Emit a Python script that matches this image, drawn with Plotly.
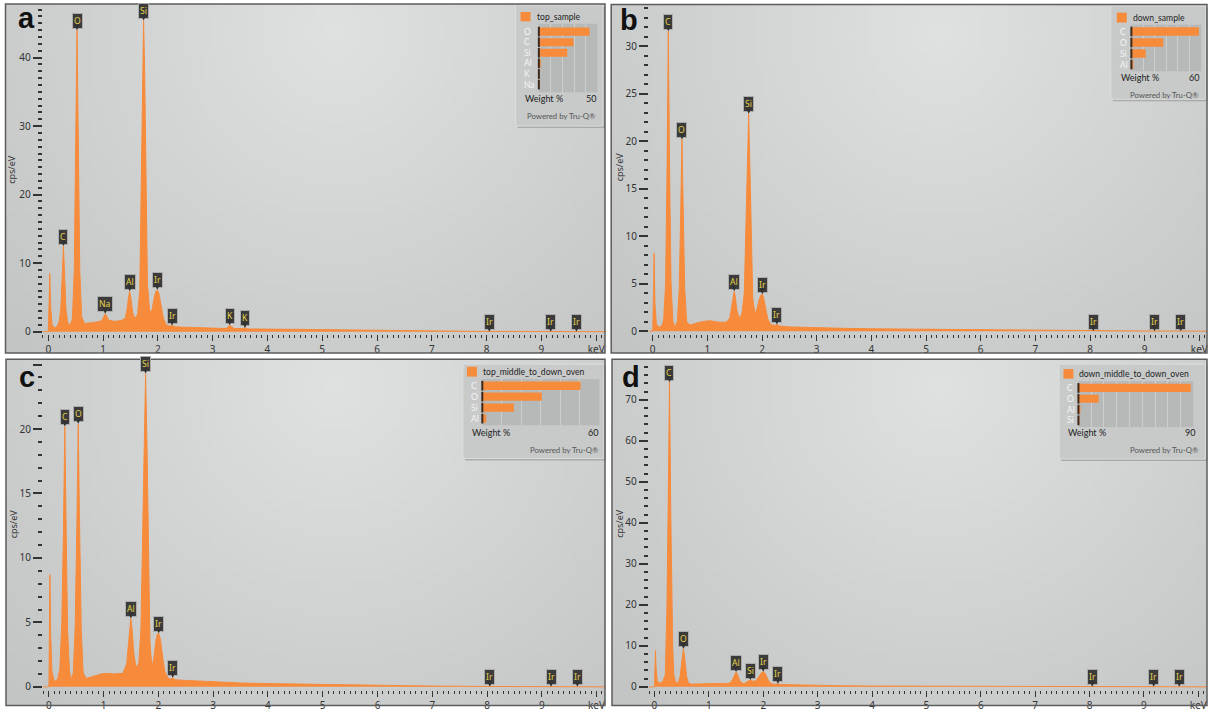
import math, zlib, struct, base64
import plotly.graph_objects as go

W, H = 1210, 713
def X(px): return px / W
def Y(py): return 1 - py / H

ORANGE = '#f68b3c'
TICK = '#333333'
FONT = 'Noto Sans'
LFONT = 'Lato'

# ---------------- data ----------------
energy_ticks = [0, 1, 2, 3, 4, 5, 6, 7, 8, 9, 10]
energy_tick_text = ['0', '1', '2', '3', '4', '5', '6', '7', '8', '9', 'keV']

# panel a : top_sample
a_energy = [-0.1, 0.0, 0.015, 0.028, 0.045, 0.07, 0.12, 0.17,
            0.2, 0.23, 0.255, 0.277, 0.3, 0.325, 0.36, 0.4,
            0.44, 0.475, 0.5, 0.525, 0.55, 0.575, 0.61, 0.66,
            0.8, 0.95,
            0.99, 1.02, 1.04, 1.06, 1.1, 1.2, 1.32, 1.4,
            1.44, 1.465, 1.486, 1.51, 1.54, 1.58, 1.63,
            1.67, 1.7, 1.72, 1.74, 1.76, 1.78, 1.81, 1.85,
            1.89, 1.93, 1.96, 1.99, 2.02, 2.06, 2.1, 2.15,
            2.22, 2.26, 2.32, 2.5, 2.8, 3.1, 3.25,
            3.29, 3.31, 3.34, 3.4, 3.56, 3.59, 3.63,
            4.0, 4.5, 5.0, 5.5, 6.0, 6.5, 7.0, 7.5, 8.0, 9.0, 10.17]
a_cps = [0, 0, 4, 8.5, 3.5, 1.0, 0.5, 0.9,
         1.5, 3.5, 8, 12.5, 8, 3, 1.2, 1.0,
         1.8, 9, 27, 44.0, 27, 9, 2.2, 1.2,
         1.3, 1.5,
         1.8, 2.4, 2.6, 2.4, 1.7, 1.5, 1.6, 1.9,
         3.3, 5.0, 5.9, 4.8, 2.8, 1.9, 2.5,
         6, 24, 38, 45.4, 38, 22, 7, 3,
         3.0, 4.8, 5.8, 6.1, 5.6, 3.8, 2.0, 1.0,
         0.8, 0.9, 0.7, 0.65, 0.55, 0.5, 0.45,
         0.8, 0.95, 0.75, 0.45, 0.45, 0.55, 0.4,
         0.4, 0.35, 0.3, 0.25, 0.2, 0.15, 0.1, 0.05, 0.03, 0.02, 0]
a_label_names = ['C', 'O', 'Na', 'Al', 'Si', 'Ir', 'Ir', 'K', 'K', 'Ir', 'Ir', 'Ir']
a_label_energy = [0.277, 0.525, 1.04, 1.486, 1.74, 1.99, 2.26, 3.31, 3.59, 8.05, 9.17, 9.64]
a_label_cps = [12.5, 44.0, 2.6, 5.9, 45.4, 6.1, 0.9, 0.95, 0.55, 0, 0, 0]
a_elements = ['O', 'C', 'Si', 'Al', 'K', 'Na']
a_weight = [43.2, 29.6, 24.2, 1.7, 0.5, 0.3]

# panel b : down_sample
b_energy = [-0.08, 0.0, 0.012, 0.025, 0.04, 0.065, 0.11, 0.17,
            0.2, 0.235, 0.26, 0.285, 0.31, 0.335, 0.37, 0.41,
            0.45, 0.485, 0.51, 0.535, 0.56, 0.585, 0.62, 0.68,
            0.8, 0.95, 1.05, 1.2, 1.35,
            1.41, 1.445, 1.47, 1.49, 1.51, 1.54, 1.58, 1.63,
            1.675, 1.71, 1.735, 1.755, 1.775, 1.8, 1.83, 1.87,
            1.91, 1.95, 1.98, 2.005, 2.03, 2.07, 2.11, 2.16,
            2.23, 2.27, 2.32, 2.5, 3.0, 3.5, 4.0, 5.0, 6.0, 7.0, 8.0, 9.0, 10.14]
b_cps = [0, 0, 3.5, 8.2, 3, 0.8, 0.4, 0.6,
         1.2, 5, 16, 31.6, 16, 5, 1.0, 0.45,
         1.0, 4.5, 12, 20.2, 12, 4.5, 1.0, 0.65,
         0.85, 1.05, 1.1, 0.95, 0.95,
         1.4, 2.6, 3.7, 4.2, 3.6, 2.2, 1.4, 1.8,
         4, 12, 19, 22.9, 18, 10, 3.5, 1.8,
         2.4, 3.4, 3.8, 3.9, 3.5, 2.3, 1.2, 0.7,
         0.6, 0.7, 0.55, 0.45, 0.35, 0.3, 0.25, 0.2, 0.12, 0.07, 0.04, 0.02, 0]
b_label_names = ['C', 'O', 'Al', 'Si', 'Ir', 'Ir', 'Ir', 'Ir', 'Ir']
b_label_energy = [0.285, 0.535, 1.49, 1.755, 2.005, 2.27, 8.06, 9.18, 9.66]
b_label_cps = [31.6, 20.2, 4.2, 22.9, 3.9, 0.7, 0, 0, 0]
b_elements = ['C', 'O', 'Si', 'Al']
b_weight = [58.0, 27.4, 12.3, 1.5]

# panel c : top_middle_to_down_oven
c_energy = [-0.11, 0.0, 0.008, 0.018, 0.032, 0.055, 0.1, 0.16,
            0.2, 0.235, 0.265, 0.29, 0.315, 0.34, 0.375, 0.41,
            0.445, 0.48, 0.51, 0.535, 0.56, 0.59, 0.625, 0.68,
            0.8, 0.95, 1.05, 1.2, 1.35,
            1.42, 1.45, 1.475, 1.496, 1.52, 1.55, 1.59, 1.64,
            1.68, 1.715, 1.74, 1.765, 1.79, 1.815, 1.845, 1.88,
            1.915, 1.95, 1.98, 2.005, 2.035, 2.075, 2.115, 2.17,
            2.22, 2.26, 2.31, 2.5, 3.0, 3.5, 4.0, 5.0, 6.0, 7.0, 8.0, 9.0, 10.16]
c_cps = [0, 0, 4, 8.7, 4, 1.2, 0.4, 0.6,
         1.4, 5, 12, 20.2, 12, 4.5, 1.2, 0.55,
         1.1, 4.8, 12.5, 20.4, 12.5, 4.5, 1.1, 0.65,
         0.8, 1.0, 1.05, 1.0, 1.05,
         1.8, 3.2, 4.6, 5.3, 4.4, 2.6, 1.5, 1.8,
         4.5, 13, 20, 24.3, 19, 10, 3.5, 1.5,
         2.2, 3.5, 4.1, 4.16, 3.7, 2.4, 1.2, 0.7,
         0.6, 0.7, 0.55, 0.5, 0.38, 0.3, 0.25, 0.18, 0.12, 0.06, 0.03, 0.02, 0]
c_label_names = ['C', 'O', 'Al', 'Si', 'Ir', 'Ir', 'Ir', 'Ir', 'Ir']
c_label_energy = [0.29, 0.535, 1.496, 1.765, 2.005, 2.26, 8.05, 9.17, 9.65]
c_label_cps = [20.2, 20.4, 5.3, 24.3, 4.16, 0.7, 0, 0, 0]
c_elements = ['C', 'O', 'Si', 'Al']
c_weight = [50.3, 30.5, 16.2, 2.0]

# panel d : down_middle_to_down_oven
d_energy = [-0.1, 0.0, 0.008, 0.018, 0.03, 0.05, 0.09, 0.15,
            0.2, 0.215, 0.23, 0.25, 0.276, 0.3, 0.32, 0.335, 0.355, 0.39,
            0.44, 0.475, 0.505, 0.533, 0.56, 0.59, 0.625, 0.68,
            0.8, 0.95, 1.1, 1.3,
            1.4, 1.44, 1.47, 1.5, 1.53, 1.565, 1.61,
            1.67, 1.71, 1.74, 1.764, 1.79, 1.83,
            1.88, 1.93, 1.97, 2.0, 2.03, 2.07, 2.11, 2.16,
            2.22, 2.27, 2.32, 2.5, 3.0, 3.5, 4.0, 5.0, 6.0, 7.0, 8.0, 9.0, 10.16]
d_cps = [0, 0, 4, 8.9, 4.5, 1.5, 0.9, 1.2,
         3, 10, 20, 42, 74.3, 42, 20, 10, 3, 1.0,
         1.0, 2.8, 6.5, 9.3, 6.5, 2.5, 0.9, 0.65,
         0.7, 0.8, 0.8, 0.75,
         1.0, 1.9, 3.0, 3.6, 2.9, 1.6, 0.85,
         0.9, 1.3, 1.6, 1.65, 1.5, 1.3,
         1.7, 2.9, 3.5, 3.7, 3.4, 2.3, 1.2, 0.7,
         0.6, 0.75, 0.55, 0.5, 0.3, 0.25, 0.2, 0.15, 0.1, 0.05, 0.03, 0.02, 0]
d_label_names = ['C', 'O', 'Al', 'Si', 'Ir', 'Ir', 'Ir', 'Ir', 'Ir']
d_label_energy = [0.276, 0.533, 1.5, 1.764, 2.0, 2.27, 8.05, 9.18, 9.65]
d_label_cps = [74.3, 9.3, 3.6, 1.65, 3.7, 0.75, 0, 0, 0]
d_elements = ['C', 'O', 'Al', 'Si']
d_weight = [88.0, 15.9, 1.2, 0.6]

# ---------------- background gradient (style only) ----------------
def gradient_png(w=80, h=48):
    rows = []
    for j in range(h):
        v = (j + 0.5) / h
        row = bytearray([0])
        for i in range(w):
            u = (i + 0.5) / w
            d = math.hypot((u - 0.55) * 1.7, v - 0.08)
            f = max(0.0, 1 - d / 1.6)
            g = 190 + 36 * f
            row += bytes([int(g - 2), int(g), int(g)])
        rows.append(bytes(row))
    raw = b''.join(rows)
    def chunk(t, data):
        c = struct.pack('>I', len(data)) + t + data
        return c + struct.pack('>I', zlib.crc32(t + data) & 0xffffffff)
    png = (b'\x89PNG\r\n\x1a\n'
           + chunk(b'IHDR', struct.pack('>IIBBBBB', w, h, 8, 2, 0, 0, 0))
           + chunk(b'IDAT', zlib.compress(raw))
           + chunk(b'IEND', b''))
    return 'data:image/png;base64,' + base64.b64encode(png).decode()

BG = gradient_png()

panels = [
    dict(letter='a', energy=a_energy, cps=a_cps, ln=a_label_names, le=a_label_energy, lc=a_label_cps,
         sample='top_sample', elements=a_elements, weight=a_weight, wmax=50,
         frame=(5.5, 4, 605.5, 355.5), plot=(42.8, 5, 606, 336), xr=[-0.10, 10.17], yr=[-0.29, 47.68],
         ydt=10, ymin=1, ylabmax=40, box=(516, 5, 603.5, 127), sq=(521, 12, 531, 21.5), name_xy=(535, 16.7),
         bars=(539.3, 24, 598, 93), el_x=523, wt_y=99.3, wt_max_x=598, pw=(598, 117),
         ylab=(12, 170), letter_xy=(16, 18)),
    dict(letter='b', energy=b_energy, cps=b_cps, ln=b_label_names, le=b_label_energy, lc=b_label_cps,
         sample='down_sample', elements=b_elements, weight=b_weight, wmax=60,
         frame=(611.7, 4.5, 1208, 355.5), plot=(649.5, 5, 1208, 336), xr=[-0.069, 10.14], yr=[-0.26, 34.36],
         ydt=5, ymin=1, ylabmax=30, box=(1111.7, 6, 1206.7, 100), sq=(1117.7, 12.7, 1127.7, 22.7),
         name_xy=(1131.7, 17.7),
         bars=(1132.3, 25, 1202.3, 71.7), el_x=1120, wt_y=78.3, wt_max_x=1202, pw=(1202, 95.7),
         ylab=(620, 168), letter_xy=(619, 20)),
    dict(letter='c', energy=c_energy, cps=c_cps, ln=c_label_names, le=c_label_energy, lc=c_label_cps,
         sample='top_middle_to_down_oven', elements=c_elements, weight=c_weight, wmax=60,
         frame=(6, 361.7, 605.5, 710.5), plot=(43, 363, 606, 694.5), xr=[-0.109, 10.164], yr=[-0.216, 25.32],
         ydt=5, ymin=1, ylabmax=20, box=(463.3, 366.7, 604.5, 461.7), sq=(467.3, 369.3, 477.3, 379.3),
         name_xy=(481.7, 374.3),
         bars=(482.7, 381.7, 600, 428.3), el_x=470, wt_y=435.7, wt_max_x=600.7, pw=(601.7, 453.3),
         ylab=(13, 527), letter_xy=(17, 380)),
    dict(letter='d', energy=d_energy, cps=d_cps, ln=d_label_names, le=d_label_energy, lc=d_label_cps,
         sample='down_middle_to_down_oven', elements=d_elements, weight=d_weight, wmax=90,
         frame=(612.5, 361.7, 1208, 710.5), plot=(649.3, 363, 1208, 694.5), xr=[-0.105, 10.16], yr=[-0.68, 79.59],
         ydt=10, ymin=2, ylabmax=70, box=(1060, 366.7, 1206.5, 462.3), sq=(1064.3, 371.7, 1074.3, 381.3),
         name_xy=(1078.3, 376.5),
         bars=(1079.3, 384, 1194.3, 430), el_x=1066.7, wt_y=436, wt_max_x=1197.7, pw=(1201.7, 453.3),
         ylab=(620, 527), letter_xy=(621, 380)),
]

fig = go.Figure()
layout = dict(width=W, height=H, margin=dict(l=0, r=0, t=0, b=0), paper_bgcolor='white',
              plot_bgcolor='rgba(0,0,0,0)', showlegend=False, bargap=0.3, hovermode=False)
shapes, annotations, images = [], [], []

for i, p in enumerate(panels):
    n = i + 1
    xid = 'x' if n == 1 else f'x{n}'
    yid = 'y' if n == 1 else f'y{n}'
    xkey = 'xaxis' if n == 1 else f'xaxis{n}'
    ykey = 'yaxis' if n == 1 else f'yaxis{n}'
    m = n + 4
    bx, by = f'x{m}', f'y{m}'

    # spectrum
    fig.add_trace(go.Scatter(x=p['energy'], y=p['cps'], xaxis=xid, yaxis=yid, mode='lines',
                             line=dict(color=ORANGE, width=1), fill='tozeroy', fillcolor=ORANGE,
                             hoverinfo='skip', showlegend=False))
    # weight % bars
    fig.add_trace(go.Bar(x=p['weight'], y=p['elements'], orientation='h', xaxis=bx, yaxis=by,
                         marker=dict(color=ORANGE, line=dict(width=0)), width=0.76,
                         showlegend=False, hoverinfo='skip'))
    fig.add_trace(go.Scatter(x=[0] * len(p['elements']), y=p['elements'], xaxis=bx, yaxis=by,
                             mode='markers', cliponaxis=False,
                             marker=dict(symbol='line-ns', size=7, line=dict(width=2, color='#3a2a1e')),
                             showlegend=False, hoverinfo='skip'))

    x0, y0, x1, y1 = p['plot']
    layout[xkey] = dict(domain=[X(x0), X(x1)], range=p['xr'], anchor=yid,
                        tickmode='array', tickvals=energy_ticks, ticktext=energy_tick_text,
                        ticks='outside', ticklen=6, tickwidth=1.3, tickcolor=TICK,
                        tickfont=dict(family=FONT, size=10, color='#333'),
                        showgrid=False, zeroline=False, showline=False, fixedrange=True,
                        minor=dict(tickmode='linear', tick0=0, dtick=0.1, ticks='outside', ticklen=3,
                                   tickwidth=1.3, tickcolor=TICK, showgrid=False))
    yvals = [k * p['ydt'] for k in range(int(p['yr'][1] // p['ydt']) + 1)]
    ytext = [str(v) if v <= p['ylabmax'] else '' for v in yvals]
    layout[ykey] = dict(domain=[Y(y1), Y(y0)], range=p['yr'], anchor=xid,
                        tickmode='array', tickvals=yvals, ticktext=ytext,
                        ticks='outside', ticklen=9, tickwidth=1.6, tickcolor=TICK,
                        tickfont=dict(family=FONT, size=10, color='#333'),
                        showgrid=False, zeroline=False, showline=False, fixedrange=True,
                        minor=dict(tickmode='linear', tick0=0, dtick=p['ymin'], ticks='outside', ticklen=4,
                                   tickwidth=1.6, tickcolor=TICK, showgrid=False))
    bx0, by0, bx1, by1 = p['bars']
    layout[f'xaxis{m}'] = dict(domain=[X(bx0), X(bx1)], range=[0, p['wmax']], anchor=by,
                               showticklabels=False, ticks='', showgrid=True, gridcolor='#cdcfcf',
                               gridwidth=1, tickmode='linear', tick0=0, dtick=10,
                               zeroline=False, showline=False, fixedrange=True)
    layout[f'yaxis{m}'] = dict(domain=[Y(by1), Y(by0)], anchor=bx, type='category',
                               categoryorder='array', categoryarray=p['elements'], autorange='reversed',
                               showticklabels=False, ticks='', showgrid=False, zeroline=False,
                               fixedrange=True)

    # panel background + frame
    fx0, fy0, fx1, fy1 = p['frame']
    images.append(dict(source=BG, xref='paper', yref='paper', x=X(fx0), y=Y(fy0),
                       sizex=(fx1 - fx0) / W, sizey=(fy1 - fy0) / H, sizing='stretch',
                       xanchor='left', yanchor='top', layer='below'))
    shapes.append(dict(type='rect', xref='paper', yref='paper', x0=X(fx0), x1=X(fx1), y0=Y(fy1), y1=Y(fy0),
                       line=dict(color='#5c5c5c', width=1.5), fillcolor='rgba(0,0,0,0)', layer='above'))

    # legend box
    lx0, ly0, lx1, ly1 = p['box']
    shapes.append(dict(type='rect', xref='paper', yref='paper', x0=X(lx0 + 2), x1=X(lx1 + 2),
                       y0=Y(ly1 + 2), y1=Y(ly0 + 2), line=dict(width=0), fillcolor='rgba(120,122,122,0.45)',
                       layer='below'))
    shapes.append(dict(type='rect', xref='paper', yref='paper', x0=X(lx0), x1=X(lx1), y0=Y(ly1), y1=Y(ly0),
                       line=dict(color='#dcdddd', width=1), fillcolor='#c8caca', layer='below'))
    shapes.append(dict(type='rect', xref='paper', yref='paper', x0=X(bx0), x1=X(bx1), y0=Y(by1), y1=Y(by0),
                       line=dict(width=0), fillcolor='#b7b9b9', layer='below'))
    sx0, sy0, sx1, sy1 = p['sq']
    shapes.append(dict(type='rect', xref='paper', yref='paper', x0=X(sx0), x1=X(sx1), y0=Y(sy1), y1=Y(sy0),
                       line=dict(width=0), fillcolor=ORANGE, layer='below'))

    annotations.append(dict(text=p['sample'], xref='paper', yref='paper', x=X(p['name_xy'][0]),
                            y=Y(p['name_xy'][1]), xanchor='left', yanchor='middle', showarrow=False,
                            font=dict(family=LFONT, size=8.6, color='#222')))
    for el in p['elements']:
        annotations.append(dict(text=el, xref='paper', yref=by, x=X(p['el_x']), y=el,
                                xanchor='left', yanchor='middle', showarrow=False, borderpad=0,
                                font=dict(family=LFONT, size=8.5, color='#f4f4f4')))
    annotations.append(dict(text='Weight %', xref='paper', yref='paper', x=X(p['el_x']), y=Y(p['wt_y']),
                            xanchor='left', yanchor='middle', showarrow=False,
                            font=dict(family=LFONT, size=9, color='#222')))
    annotations.append(dict(text=str(p['wmax']), xref='paper', yref='paper', x=X(p['wt_max_x']),
                            y=Y(p['wt_y']), xanchor='right', yanchor='middle', showarrow=False,
                            font=dict(family=LFONT, size=9, color='#222')))
    annotations.append(dict(text='Powered by Tru-Q®', xref='paper', yref='paper', x=X(p['pw'][0]),
                            y=Y(p['pw'][1]), xanchor='right', yanchor='middle', showarrow=False,
                            font=dict(family=LFONT, size=7.8, color='#555')))
    # axis title and panel letter
    annotations.append(dict(text='cps/eV', xref='paper', yref='paper', x=X(p['ylab'][0]), y=Y(p['ylab'][1]),
                            textangle=-90, showarrow=False, xanchor='center', yanchor='middle',
                            font=dict(family=FONT, size=9, color='#333')))
    annotations.append(dict(text=p['letter'], xref='paper', yref='paper', x=X(p['letter_xy'][0]),
                            y=Y(p['letter_xy'][1]), showarrow=False, xanchor='left', yanchor='middle',
                            font=dict(family='Liberation Sans', size=29, color='#111', weight='bold')))
    # peak labels
    for name, e, c in zip(p['ln'], p['le'], p['lc']):
        annotations.append(dict(text=name, xref=xid, yref=yid, x=e, y=c, showarrow=True,
                                arrowhead=2, arrowsize=1, arrowwidth=1.2, arrowcolor='#333',
                                ax=0, ay=-9.5, standoff=0,
                                font=dict(family=FONT, size=8.6, color='#e6d34a'),
                                bgcolor='#3b3b3b', bordercolor='#adadad', borderwidth=1, borderpad=1))

layout['shapes'] = shapes
layout['annotations'] = annotations
layout['images'] = images
fig.update_layout(**layout)

fig.write_html('out.html', config=dict(displayModeBar=False),
               post_script="document.body.style.margin='0';document.body.style.padding='0';"
                           "document.body.style.overflow='hidden';"
                           "document.documentElement.style.overflow='hidden';")
